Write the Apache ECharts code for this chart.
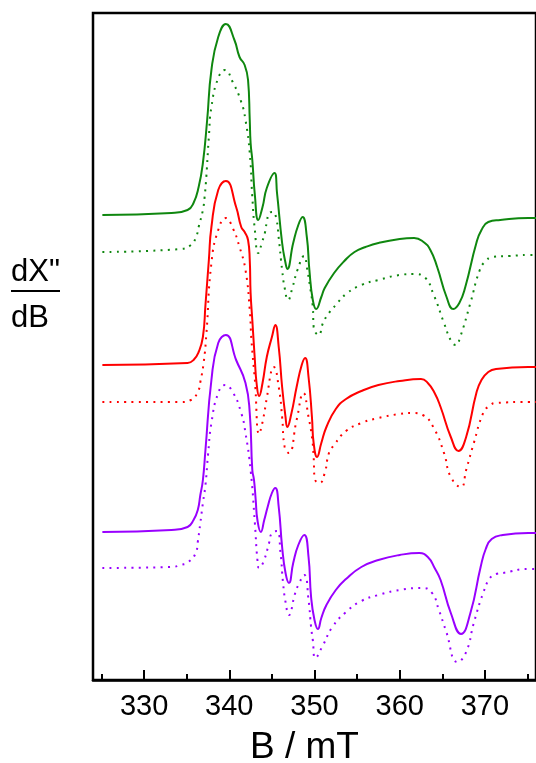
<!DOCTYPE html>
<html>
<head>
<meta charset="utf-8">
<script src="https://cdn.jsdelivr.net/npm/echarts@6/dist/echarts.min.js"></script>
<style>
html,body{margin:0;padding:0;background:#fff;}
#chart{width:536px;height:763px;}
</style>
</head>
<body>
<div id="chart"></div>
<script>
// Field values (mT) for axis ticks
const majorTicks = [330, 340, 350, 360, 370];
const minorTicks = [325, 335, 345, 355, 365, 375];

// Spectra: [B (mT), dX''/dB (arb. units, offset stacked)]
const greenSolid = [[325.1,465],[333.2,467],[335.1,470],[335.8,477],[336.4,493],[336.9,517],[337.4,560],[337.9,610],[338.7,643],[339.6,656],[340.6,640],[341.2,623],[341.8,615],[342.2,600],[342.4,560],[342.5,537],[342.7,520],[343.0,485],[343.4,460],[343.9,473],[344.4,492],[345.3,507],[345.6,487],[346.2,437],[346.6,417],[346.8,411],[347.5,437],[348.1,455],[348.6,463],[349.1,443],[349.4,410],[349.8,380],[350.2,371],[350.8,383],[351.2,392],[352.3,407],[353.5,419],[354.7,428],[356.0,433],[357.5,437],[360.0,441],[361.7,442],[362.8,438],[363.6,430],[364.4,413],[365.5,383],[366.3,371],[367.0,377],[367.7,393],[369.0,437],[369.6,450],[370.4,458],[371.8,460],[375.1,462],[376,462]];
const greenDotted = [[325.1,428],[334.3,431],[335.5,435],[336.1,443],[336.4,453],[336.9,470],[337.1,483],[337.3,503],[337.6,543],[337.9,573],[338.7,602],[339.5,610],[340.4,598],[341.4,578],[341.9,560],[342.4,527],[342.7,483],[343.0,450],[343.4,427],[343.85,438],[344.2,448],[344.4,458],[344.7,467],[345.1,468],[345.5,462],[345.8,442],[346.2,410],[346.5,392],[346.9,380],[347.4,392],[348.0,410],[348.8,424],[349.1,413],[349.5,392],[349.8,373],[349.9,353],[350.5,345],[351.0,357],[351.7,367],[352.5,375],[353.7,386],[355.5,395],[357.5,400],[360.0,405],[361.7,406],[362.9,403],[364.0,385],[365.2,357],[366.1,338],[366.6,335],[367.1,343],[368.3,377],[369.4,410],[370.1,419],[370.9,423],[372.9,424],[375.1,425],[376,425]];
const redSolid = [[325.1,315],[335.1,317],[335.8,320],[336.4,328],[336.9,343],[337.2,375],[337.6,420],[337.9,453],[338.7,490],[339.6,499],[340.8,473],[341.4,453],[341.8,448],[342.2,440],[342.4,420],[342.5,387],[342.7,360],[343.0,320],[343.2,297],[343.5,284],[343.9,297],[344.4,323],[345.0,343],[345.4,355],[345.8,333],[346.2,293],[346.6,263],[346.8,253],[347.3,267],[347.9,293],[348.5,315],[348.9,322],[349.3,303],[349.7,263],[349.9,237],[350.3,223],[350.8,237],[351.4,253],[352.5,271],[353.7,281],[355.5,289],[357.5,295],[360.0,299],[362.5,301],[363.3,297],[364.1,287],[364.8,273],[366.0,243],[366.9,229],[367.8,243],[369.0,287],[369.6,300],[370.4,308],[371.3,311],[375.1,313],[376,313]];
const redDotted = [[325.1,278],[334.3,278],[335.5,280],[336.3,288],[336.6,298],[337.0,318],[337.3,345],[337.9,417],[338.7,450],[339.6,462],[340.4,452],[341.2,433],[341.9,410],[342.4,370],[342.6,340],[343.0,300],[343.5,246],[343.9,258],[344.4,282],[345.0,312],[345.2,313],[345.8,293],[346.2,263],[346.5,233],[347.0,227],[347.9,260],[348.7,287],[349.3,263],[349.7,243],[349.9,223],[350.0,202],[350.6,197],[351.2,207],[351.7,227],[352.3,235],[353.7,249],[355.5,257],[357.5,262],[360.0,266],[361.5,267],[362.7,265],[364.0,252],[365.2,227],[366.0,203],[367.2,193],[367.8,210],[368.7,237],[369.8,267],[370.5,274],[371.3,277],[375.1,278],[376,278]];
const purpleSolid = [[325.1,148],[333.2,150],[335.1,153],[335.8,160],[336.3,170],[336.6,185],[336.9,200],[337.2,230],[337.9,300],[338.7,337],[339.6,345],[340.8,320],[341.9,297],[342.4,267],[342.7,210],[342.9,200],[343.1,180],[343.3,160],[343.7,148],[344.1,160],[344.5,173],[345.0,187],[345.4,192],[345.8,173],[346.2,133],[346.6,107],[347.0,97],[347.5,117],[348.1,135],[348.8,145],[349.3,123],[349.6,83],[350.0,60],[350.4,51],[350.8,62],[351.4,75],[352.5,90],[353.7,101],[355.5,113],[357.5,120],[360.0,125],[362.3,127],[363.3,123],[364.1,112],[364.8,100],[366.0,67],[367.2,46],[368.3,67],[369.5,113],[370.1,131],[370.8,141],[372.1,145],[375.1,147],[376,147]];
const purpleDotted = [[325.1,112],[333.2,113],[334.3,115],[335.2,118],[336.1,128],[336.3,138],[336.6,157],[336.9,177],[337.2,195],[337.5,225],[337.9,257],[338.7,287],[339.5,295],[340.4,288],[341.4,267],[341.9,247],[342.5,210],[343.0,157],[343.3,120],[343.5,112],[344.0,118],[344.7,138],[345.0,147],[345.6,149],[346.0,128],[346.3,98],[346.6,78],[347.0,65],[347.7,86],[348.1,95],[348.8,105],[349.3,80],[349.6,53],[349.8,40],[350.1,22],[351.0,35],[352.1,53],[353.7,68],[355.5,79],[357.5,85],[360.0,90],[362.7,92],[363.8,87],[364.6,70],[365.4,50],[366.8,18],[367.8,28],[368.7,57],[369.8,87],[370.6,102],[371.3,106],[372.1,107],[375.1,111],[376,111]];

const FONT = '"Liberation Sans", Arial, sans-serif';
const GREEN = '#0f870f', RED = '#ff0000', PURPLE = '#9900ff';

function solid(data, color) {
  return { type: 'line', data: data, showSymbol: false, smooth: 0.5,
    lineStyle: { color: color, width: 2 }, itemStyle: { color: color }, z: 3, silent: true };
}
function dotted(data, color) {
  return { type: 'line', data: data, showSymbol: false, smooth: 0.5,
    lineStyle: { color: color, width: 2, type: [2, 5.3] }, itemStyle: { color: color }, z: 2, silent: true };
}

const chart = echarts.init(document.getElementById('chart'), null, { renderer: 'canvas' });
chart.setOption({
  animation: false,
  backgroundColor: '#fff',
  grid: { left: 93, top: 13, width: 451, height: 667, show: true, borderColor: '#000', borderWidth: 2.5, backgroundColor: 'transparent' },
  xAxis: [
    { type: 'value', min: 324, max: 376, position: 'bottom',
      axisLine: { show: true, onZero: false, lineStyle: { color: '#000', width: 2.5 } },
      axisTick: { show: true, inside: true, length: 10, customValues: majorTicks, lineStyle: { color: '#000', width: 2 } },
      axisLabel: { show: true, customValues: majorTicks, margin: 12, fontSize: 29, color: '#000', fontFamily: FONT },
      splitLine: { show: false } },
    { type: 'value', min: 324, max: 376, position: 'bottom', offset: 0,
      axisLine: { show: false },
      axisTick: { show: true, inside: true, length: 6, customValues: minorTicks, lineStyle: { color: '#000', width: 2 } },
      axisLabel: { show: false }, splitLine: { show: false } }
  ],
  yAxis: { type: 'value', min: 0, max: 667, show: false, splitLine: { show: false } },
  series: [
    dotted(greenDotted, GREEN), solid(greenSolid, GREEN),
    dotted(redDotted, RED), solid(redSolid, RED),
    dotted(purpleDotted, PURPLE), solid(purpleSolid, PURPLE)
  ],
  graphic: [
    { type: 'text', left: 11, top: 257, style: { text: 'dX"', font: '31px ' + FONT, fill: '#000' } },
    { type: 'line', shape: { x1: 11, y1: 291, x2: 60, y2: 291 }, style: { stroke: '#000', lineWidth: 2 } },
    { type: 'text', left: 11, top: 303, style: { text: 'dB', font: '31px ' + FONT, fill: '#000' } },
    { type: 'text', left: 250, top: 729, style: { text: 'B / mT', font: '37px ' + FONT, fill: '#000' } }
  ]
});
</script>
</body>
</html>
